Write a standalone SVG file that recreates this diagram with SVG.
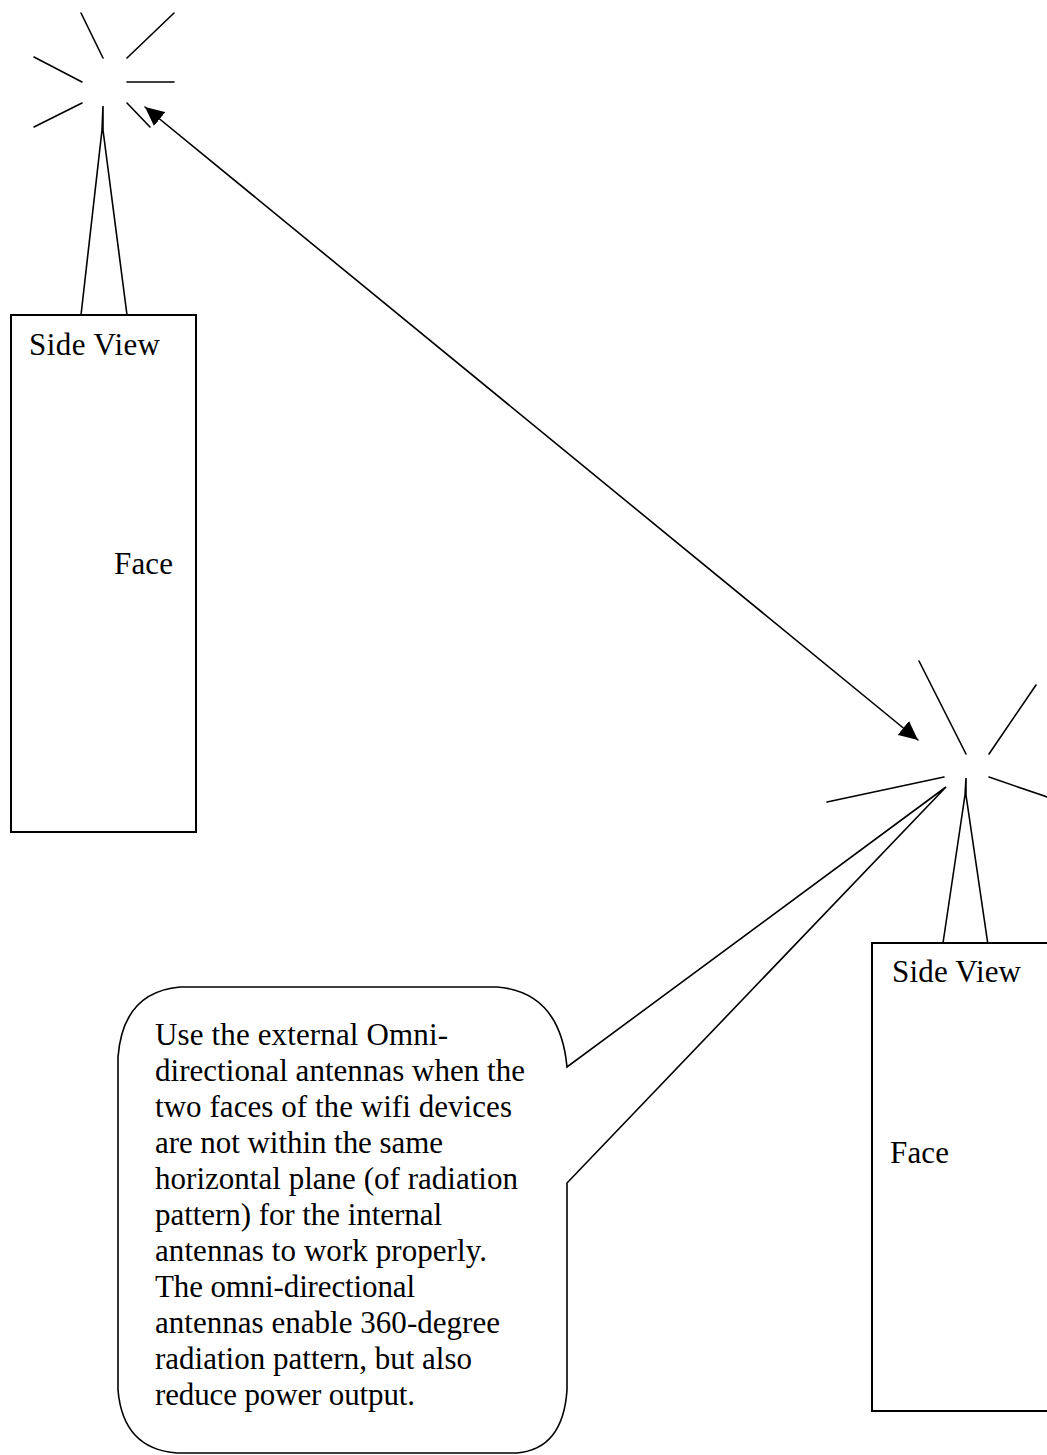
<svg xmlns="http://www.w3.org/2000/svg" width="1047" height="1455" viewBox="0 0 1047 1455">
<style>
.ln{stroke:#000;stroke-width:1.6;fill:none;stroke-linecap:round}
.box{stroke:#000;stroke-width:2;fill:#fff}
.t{font-family:"Liberation Serif","Times New Roman",serif;font-size:31px;fill:#000}
</style>
<defs>
<marker id="ah" markerUnits="userSpaceOnUse" markerWidth="20" markerHeight="18" refX="19" refY="9" orient="auto-start-reverse">
<path d="M0,0 L19,9 L0,18 Z" fill="#000"/>
</marker>
</defs>
<rect width="1047" height="1455" fill="#fff"/>
<g id="device-left">
<line class="ln" x1="81" y1="13" x2="103" y2="58"/>
<line class="ln" x1="174" y1="13" x2="127" y2="58"/>
<line class="ln" x1="34" y1="57" x2="82" y2="82"/>
<line class="ln" x1="127" y1="82" x2="174" y2="82"/>
<line class="ln" x1="82" y1="103" x2="34" y2="127"/>
<line class="ln" x1="127" y1="103" x2="150" y2="127"/>
<polyline class="ln" points="81,315 102,130 103,106 103,130 127,315"/>
<rect class="box" x="11" y="315" width="185" height="517"/>
<text class="t" x="29" y="355" textLength="131" lengthAdjust="spacing">Side View</text>
<text class="t" x="114" y="574" textLength="59" lengthAdjust="spacing">Face</text>
</g>
<g id="device-right">
<line class="ln" x1="919" y1="661" x2="966" y2="754"/>
<line class="ln" x1="1036" y1="685" x2="989" y2="754"/>
<line class="ln" x1="827" y1="802" x2="944" y2="777"/>
<line class="ln" x1="989" y1="777" x2="1050" y2="798"/>
<polyline class="ln" points="943,943 965,795 966,778 966,795 988,945"/>
<rect class="box" x="872" y="943" width="200" height="468"/>
<text class="t" x="892" y="982" textLength="129" lengthAdjust="spacing">Side View</text>
<text class="t" x="890" y="1163" textLength="59" lengthAdjust="spacing">Face</text>
</g>
<g id="callout">
<path class="ln" d="M180,987 L497,987 Q560,992 567,1067 L946,787 L567,1183 L567,1390 Q563,1449 517,1453 L177,1453 Q123,1449 118,1390 L118,1057 Q123,992 180,987 Z" fill="#fff"/>
<g class="t">
<text x="155" y="1045" textLength="293" lengthAdjust="spacing">Use the external Omni-</text>
<text x="155" y="1081" textLength="370" lengthAdjust="spacing">directional antennas when the</text>
<text x="155" y="1117" textLength="357" lengthAdjust="spacing">two faces of the wifi devices</text>
<text x="155" y="1153" textLength="288" lengthAdjust="spacing">are not within the same</text>
<text x="155" y="1189" textLength="363" lengthAdjust="spacing">horizontal plane (of radiation</text>
<text x="155" y="1225" textLength="287" lengthAdjust="spacing">pattern) for the internal</text>
<text x="155" y="1261" textLength="332" lengthAdjust="spacing">antennas to work properly.</text>
<text x="155" y="1297" textLength="260" lengthAdjust="spacing">The omni-directional</text>
<text x="155" y="1333" textLength="345" lengthAdjust="spacing">antennas enable 360-degree</text>
<text x="155" y="1369" textLength="317" lengthAdjust="spacing">radiation pattern, but also</text>
<text x="155" y="1405" textLength="260" lengthAdjust="spacing">reduce power output.</text>
</g>
</g>
<g id="connectors">
<line class="ln" x1="145" y1="107" x2="918" y2="740" stroke-width="1.4" marker-start="url(#ah)" marker-end="url(#ah)"/>
</g>
</svg>
